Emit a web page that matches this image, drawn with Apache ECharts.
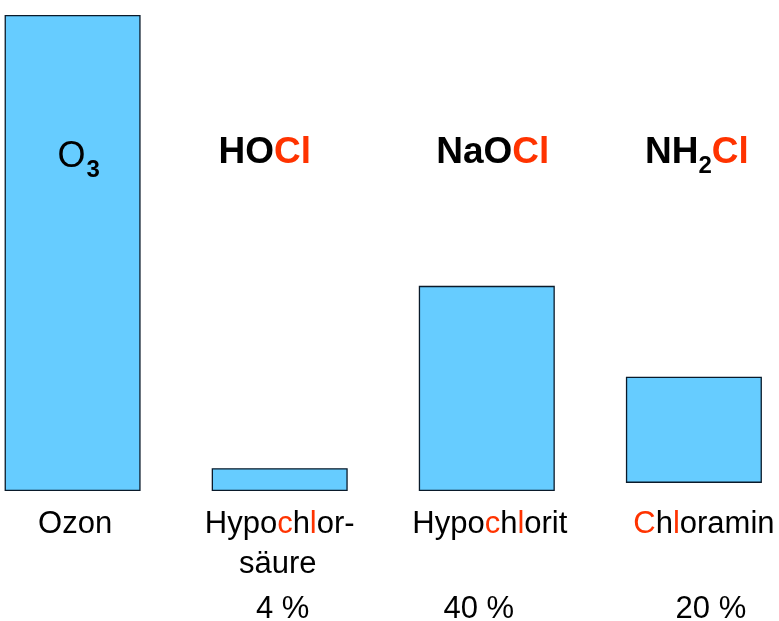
<!DOCTYPE html>
<html><head><meta charset="utf-8">
<script src="https://cdn.jsdelivr.net/npm/echarts@6/dist/echarts.min.js"></script>
<style>html,body{margin:0;padding:0;background:#fff}#c{width:779px;height:621px}</style>
</head><body><div id="c"></div>
<script>
const categories = ['Ozon', 'Hypochlorsäure', 'Hypochlorit', 'Chloramin'];
const baseValues = [0, 0, 0, 1.7];
const barValues = [100, 4.8, 43.1, 22.3];
const percentLabels = ['', '4 %', '40 %', '20 %'];
const formulas = ['O3', 'HOCl', 'NaOCl', 'NH2Cl'];
const formulaLevel = [71, 71, 71, 71];

const FONT = '"Liberation Sans", Arial, sans-serif';
const nameRich = {
  'Ozon': '{pl5|}{t|Ozon}',
  'Hypochlorsäure': '{t|Hypo}{r|c}{t|h}{r|l}{t|or-}',
  'Hypochlorit': '{pl6|}{t|Hypo}{r|c}{t|h}{r|l}{t|orit}',
  'Chloramin': '{pl20|}{r|C}{t|h}{r|l}{t|oramin}'
};
const secondLine = { 'Hypochlorsäure': '{s2|säure}' };
const pctStyle = ['p0', 'p1', 'p2', 'p3'];
const formulaRich = {
  'O3': '{n|O}{ns|3}',
  'HOCl': '{b|HO}{r|Cl}',
  'NaOCl': '{b|NaO}{r|Cl}',
  'NH2Cl': '{b|NH}{s|2}{r|Cl}'
};
const formulaOffset = [[6, 4], [-15, 0], [6, 0], [3, 0]];

const txt = function (extra) {
  return Object.assign({ fontFamily: FONT, fontSize: 31, color: '#000', lineHeight: 40 }, extra || {});
};

const chart = echarts.init(document.getElementById('c'), null, { renderer: 'canvas' });
chart.setOption({
  animation: false,
  backgroundColor: '#fff',
  grid: { left: 72.6, right: 85.1, top: 15, bottom: 130, containLabel: false, outerBoundsMode: 'none' },
  xAxis: {
    type: 'category',
    data: categories,
    boundaryGap: false,
    axisLine: { show: false },
    axisTick: { show: false },
    splitLine: { show: false },
    axisLabel: {
      interval: 0,
      margin: 13,
      hideOverlap: false,
      fontFamily: FONT,
      fontSize: 31,
      lineHeight: 40,
      color: '#000',
      formatter: function (v, i) {
        const l1 = nameRich[v];
        const l2 = secondLine[v] || '{t| }';
        const l3 = percentLabels[i] ? '{' + pctStyle[i] + '|' + percentLabels[i] + '}' : '{t| }';
        return l1 + '\n' + l2 + '\n' + l3;
      },
      rich: {
        t: txt(),
        s2: txt({ padding: [0, 4, 0, 0] }),
        r: txt({ color: '#FF3300' }),
        pl5: { width: 5 },
        pl6: { width: 6 },
        pl20: { width: 20 },
        p0: txt({ lineHeight: 50 }),
        p1: txt({ lineHeight: 50, padding: [0, 0, 0, 6] }),
        p2: txt({ lineHeight: 50, padding: [0, 16, 0, 0] }),
        p3: txt({ lineHeight: 50, padding: [0, 0, 0, 34] })
      }
    }
  },
  yAxis: { type: 'value', min: 0, max: 100, show: false, splitLine: { show: false } },
  series: [
    {
      type: 'bar', stack: 's', data: baseValues, barWidth: 136,
      itemStyle: { color: 'rgba(0,0,0,0)' }, silent: true
    },
    {
      type: 'bar', stack: 's', data: barValues, barWidth: 136,
      itemStyle: { color: '#66CCFF', borderColor: '#0a1a2a', borderWidth: 1.3 }
    },
    {
      type: 'scatter',
      symbolSize: 0,
      itemStyle: { opacity: 1 },
      silent: true,
      data: formulaLevel.map(function (v, i) {
        return { value: v, label: { offset: formulaOffset[i] } };
      }),
      label: {
        show: true,
        position: 'inside',
        opacity: 1,
        formatter: function (p) { return formulaRich[formulas[p.dataIndex]]; },
        rich: {
          n: { fontFamily: FONT, fontSize: 36, color: '#000', lineHeight: 40 },
          ns: { fontFamily: FONT, fontSize: 24, fontWeight: 'bold', color: '#000', padding: [26, 0, 0, 1] },
          b: { fontFamily: FONT, fontSize: 37, fontWeight: 'bold', color: '#000', lineHeight: 40 },
          r: { fontFamily: FONT, fontSize: 37, fontWeight: 'bold', color: '#FF3300', lineHeight: 40 },
          s: { fontFamily: FONT, fontSize: 24, fontWeight: 'bold', color: '#000', padding: [26, 0, 0, 0] }
        }
      }
    }
  ]
});
</script>
</body></html>
